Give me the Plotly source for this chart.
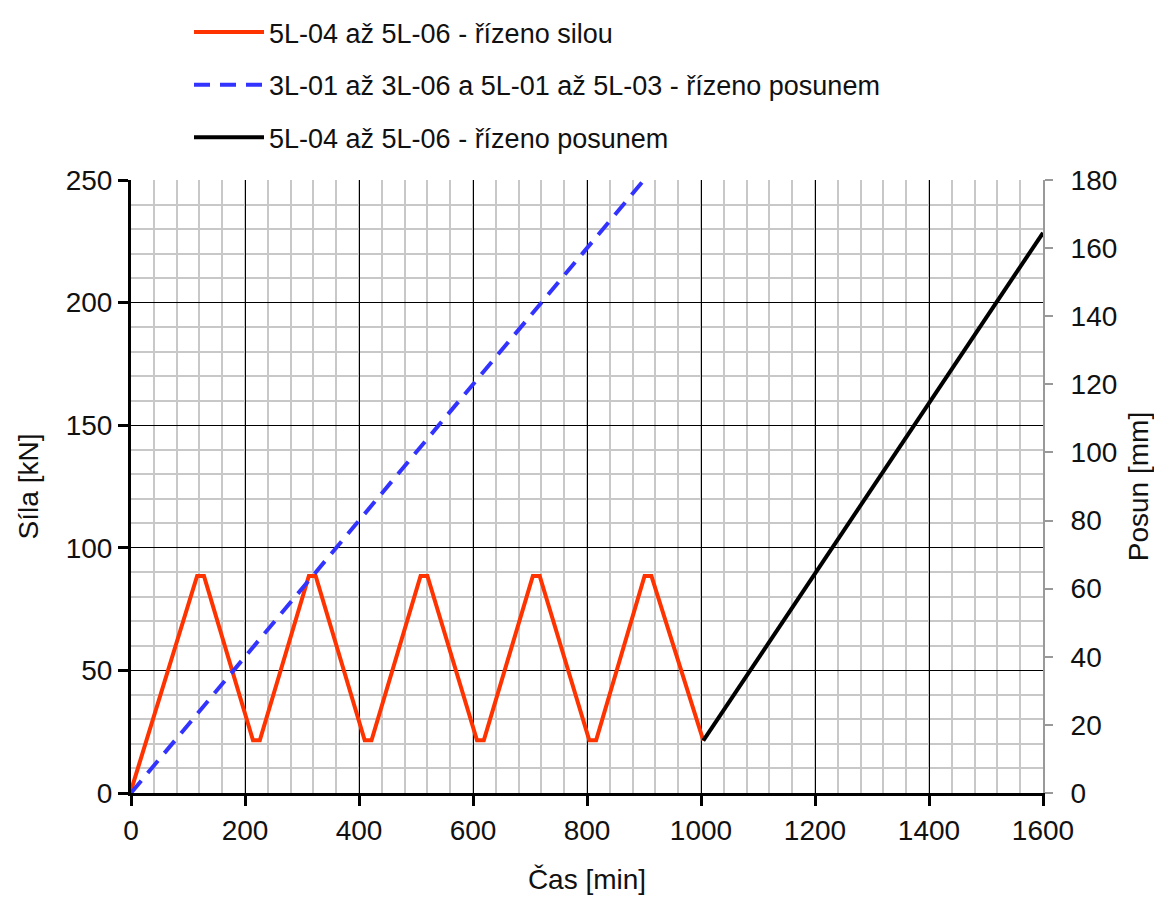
import plotly.graph_objects as go

# Force-controlled loading (red), kN vs min
red_t = [0, 116, 128, 214, 226, 312, 324, 410, 422, 508, 520, 607, 619, 705, 717, 804, 816, 901, 913, 1004]
red_f = [1, 88.5, 88.5, 21.5, 21.5, 88.5, 88.5, 21.5, 21.5, 88.5, 88.5, 21.5, 21.5, 88.5, 88.5, 21.5, 21.5, 88.5, 88.5, 21.5]

# Displacement-controlled (blue dashed), mm vs min
blue_t = [0, 900]
blue_d = [0, 180]

# Displacement-controlled after cycles (black), mm vs min
black_t = [1004, 1600]
black_d = [15.4, 164.5]

x_ticks = [0, 200, 400, 600, 800, 1000, 1200, 1400, 1600]

FONT = "Liberation Sans, Arial, sans-serif"

fig = go.Figure()
fig.add_trace(go.Scatter(x=red_t, y=red_f, mode="lines", name="5L-04 až 5L-06 - řízeno silou",
                         line=dict(color="#ff3300", width=4), legendgroup="a", yaxis="y"))
fig.add_trace(go.Scatter(x=blue_t, y=blue_d, mode="lines", name="3L-01 až 3L-06 a 5L-01 až 5L-03 - řízeno posunem",
                         line=dict(color="#3333ff", width=4, dash="16px,10px"), legendgroup="b", yaxis="y2"))
fig.add_trace(go.Scatter(x=black_t, y=black_d, mode="lines", name="5L-04 až 5L-06 - řízeno posunem",
                         line=dict(color="#000000", width=4), legendgroup="c", yaxis="y2"))

fig.update_layout(
    width=1162, height=897,
    margin=dict(l=123, r=127, t=172, b=112, autoexpand=False),
    paper_bgcolor="white", plot_bgcolor="white",
    font=dict(family=FONT, size=28, color="#111"),
    showlegend=True,
    legend=dict(x=0.0636, xanchor="left", xref="paper", y=1.0065, yanchor="top", yref="container",
                font=dict(size=27), tracegroupgap=14.5, itemwidth=70,
                bgcolor="rgba(0,0,0,0)"),
    xaxis=dict(range=[0, 1600], tickvals=x_ticks, showgrid=True, gridcolor="#000", gridwidth=1.2,
               showline=True, linecolor="#000", linewidth=3, ticks="outside", ticklen=10,
               tickwidth=2.5, tickcolor="#000", zeroline=False,
               minor=dict(dtick=40, showgrid=True, gridcolor="#c8c8c8", gridwidth=1.5),
               title=dict(text="Čas [min]", font=dict(size=28), standoff=25)),
    yaxis=dict(range=[0, 250], dtick=50, showgrid=True, gridcolor="#000", gridwidth=1.2,
               showline=True, linecolor="#000", linewidth=3, ticks="outside", ticklen=10,
               tickwidth=2.5, tickcolor="#000", zeroline=False,
               minor=dict(dtick=10, showgrid=True, gridcolor="#c8c8c8", gridwidth=1.5),
               title=dict(text="Síla [kN]", font=dict(size=28), standoff=19)),
    yaxis2=dict(range=[0, 180], dtick=20, overlaying="y", side="right", showgrid=False,
                showline=True, linecolor="#999", linewidth=2, ticks="outside", ticklen=8,
                tickwidth=1.5, tickcolor="#999", zeroline=False, ticklabelstandoff=12,
                title=dict(text="Posun [mm]", font=dict(size=28), standoff=12)),
)

fig.write_html("out.html")
